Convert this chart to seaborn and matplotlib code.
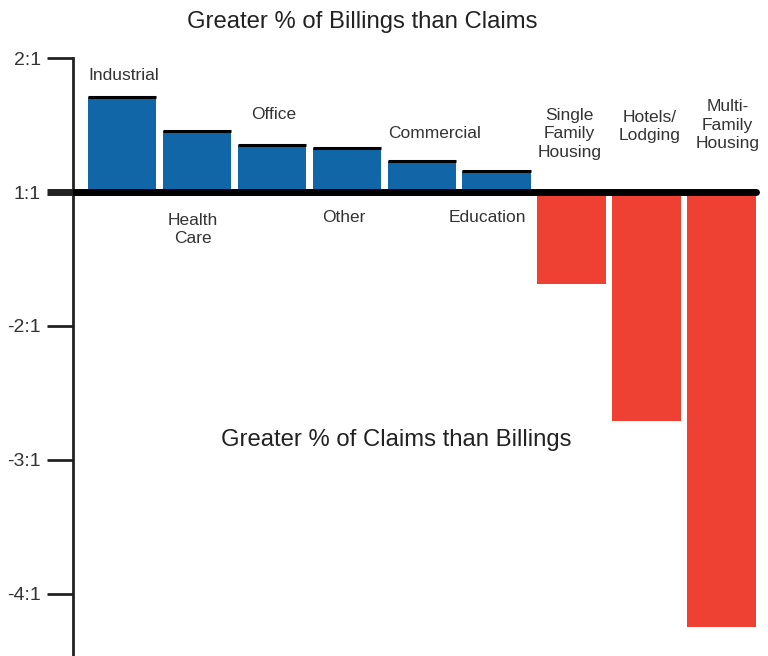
import matplotlib
matplotlib.use("Agg")
import matplotlib.pyplot as plt
import seaborn as sns

# ratio data: 0 = 1:1, +1 = 2:1, -1 = -2:1 ...
categories = ["Industrial", "Health\nCare", "Office", "Other", "Commercial",
              "Education", "Single\nFamily\nHousing", "Hotels/\nLodging",
              "Multi-\nFamily\nHousing"]
values = [0.71, 0.455, 0.35, 0.33, 0.23, 0.157, -0.69, -1.71, -3.25]
tick_values = [1, 0, -1, -2, -3]
tick_labels = ["2:1", "1:1", "-2:1", "-3:1", "-4:1"]

blue = "#1166a8"
red = "#ef4034"
colors = [blue if v > 0 else red for v in values]

sns.set_style("white")
plt.rcParams["font.family"] = ["Liberation Sans", "DejaVu Sans"]

fig = plt.figure(figsize=(7.68, 6.56), dpi=100)
ax = fig.add_axes([73 / 768, 0, 695 / 768, 1])

sns.barplot(x=categories, y=values, hue=categories, palette=colors,
            legend=False, width=0.907, ax=ax, saturation=1, linewidth=0)

ax.set_xlim(-0.647, 8.62)
ax.set_ylim(-3.463, 1.433)

# black caps on the positive bars
for p in ax.patches:
    if p.get_height() > 0:
        ax.plot([p.get_x(), p.get_x() + p.get_width()],
                [p.get_height()] * 2, color="black", lw=2.2,
                solid_capstyle="butt")

# 1:1 baseline
ax.axhline(0, xmin=0, xmax=(756 - 73) / 695, color="black", lw=5, zorder=5)

for s in ["top", "right", "bottom"]:
    ax.spines[s].set_visible(False)
ax.spines["left"].set_bounds(-3.5, 1)
ax.spines["left"].set_linewidth(2)
ax.spines["left"].set_color("#222222")

ax.set_xticks([])
ax.set_yticks(tick_values)
ax.set_yticklabels(tick_labels, fontsize=14, color="#333333")
ax.tick_params(axis="y", left=True, length=19, width=2, color="#222222", pad=4)
ax.yaxis.get_major_ticks()[1].tick1line.set_markeredgewidth(5)
ax.yaxis.get_major_ticks()[1].tick1line.set_color("black")
ax.set_xlabel("")
ax.set_ylabel("")

# category labels: (x offset, y)
label_layout = [(0.03, 0.866), (-0.05, -0.28), (0.03, 0.582), (-0.03, -0.194),
                (0.18, 0.44), (-0.12, -0.194), (-0.03, 0.433), (0.04, 0.489),
                (0.08, 0.5)]
for i, (lab, (dx, y)) in enumerate(zip(categories, label_layout)):
    ax.text(i + dx, y, lab, ha="center", va="center", fontsize=12.5,
            color="#333333", linespacing=1.3)

ax.text((362 - 73) / 695, 1.268, "Greater % of Billings than Claims",
        transform=ax.get_yaxis_transform(), ha="center", va="center",
        fontsize=17.2, color="#222222")
ax.text((396 - 73) / 695, -1.85, "Greater % of Claims than Billings",
        transform=ax.get_yaxis_transform(), ha="center", va="center",
        fontsize=17.2, color="#222222")

fig.savefig("out.png", dpi=100)
